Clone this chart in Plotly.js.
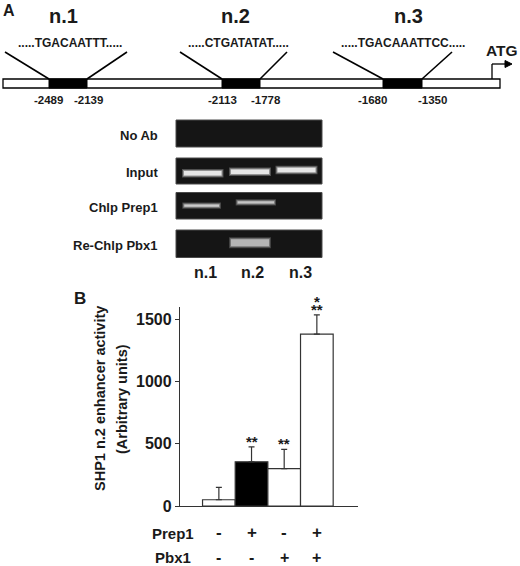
<!DOCTYPE html>
<html>
<head>
<meta charset="utf-8">
<script src="https://cdn.plot.ly/plotly-3.0.1.min.js"></script>
<style>
html,body{margin:0;padding:0;background:#fff;}
#chart{width:520px;height:566px;}
</style>
</head>
<body>
<div id="chart"></div>
<script>
// ---------------- DATA ----------------
// Panel B: SHP1 n.2 enhancer activity
const conditions = ['ctrl', 'Prep1', 'Pbx1', 'Prep1+Pbx1'];
const activity = [50, 355, 300, 1380];
const activityErr = [100, 120, 155, 155];
const prep1Signs = ['-', '+', '-', '+'];
const pbx1Signs = ['-', '-', '+', '+'];
const significance = ['', '**', '**', '**'];
const significance2 = ['', '', '', '*'];
const yTickVals = [0, 500, 1000, 1500];

// Panel A: schematic and ChIP gel
const sites = ['n.1', 'n.2', 'n.3'];
const siteSequences = ['.....TGACAATTT.....', '.....CTGATATAT.....', '.....TGACAAATTCC.....'];
const siteStart = ['-2489', '-2113', '-1680'];
const siteEnd = ['-2139', '-1778', '-1350'];
const gelRows = ['No Ab', 'Input', 'Chlp Prep1', 'Re-Chlp Pbx1'];
const bandNoAb = [0, 0, 0];
const bandInput = [1, 1, 1];
const bandPrep1 = [0.75, 0.7, 0];
const bandPbx1 = [0, 0.55, 0];

// ---------------- LAYOUT HELPERS ----------------
const W = 520, H = 566;
const X = p => p / W;
const Y = p => 1 - p / H;
const FONT = 'Liberation Sans, Arial, Helvetica, sans-serif';
const INK = '#1a1a1a';

const shapes = [];
const annotations = [];

function rect(x0, y0, x1, y1, fill, lc, lw) {
  shapes.push({type: 'rect', xref: 'paper', yref: 'paper', x0: X(x0), x1: X(x1), y0: Y(y1), y1: Y(y0),
    fillcolor: fill, line: {color: lc || fill, width: lw || 0}, layer: 'above'});
}
function line(x0, y0, x1, y1, c, w) {
  shapes.push({type: 'line', xref: 'paper', yref: 'paper', x0: X(x0), x1: X(x1), y0: Y(y0), y1: Y(y1),
    line: {color: c, width: w}, layer: 'above'});
}
function text(t, x, y, size, xanchor, opts) {
  annotations.push(Object.assign({xref: 'paper', yref: 'paper', x: X(x), y: Y(y), text: '<b>' + t + '</b>',
    showarrow: false, xanchor: xanchor || 'center', yanchor: 'middle',
    font: {family: FONT, size: size, color: INK}}, opts || {}));
}

// ---------------- PANEL A: schematic ----------------
text('A', 1, 10, 16, 'left');
const siteLabelX = [63, 235, 408];
const seqX = [70, 238, 403];
const boxX = [[49, 87], [222, 260], [383, 422]];
const diagTop = [[5, 127], [180, 287], [333, 452]];
const coordX = [[48, 88], [222, 266], [372, 432]];
// promoter bar
rect(3, 79, 500, 88, '#ffffff', '#000', 1.3);
sites.forEach((s, i) => {
  text(s, siteLabelX[i], 16, 20, 'center');
  text(siteSequences[i], seqX[i], 43, 12, 'center');
  rect(boxX[i][0], 79, boxX[i][1], 88, '#000', '#000', 1);
  line(diagTop[i][0], 52, boxX[i][0], 79, '#000', 1.6);
  line(boxX[i][1], 79, diagTop[i][1], 52, '#000', 1.6);
  text(siteStart[i], coordX[i][0], 99.5, 11.5, 'center');
  text(siteEnd[i], coordX[i][1], 99.5, 11.5, 'center');
});
// ATG arrow
line(492, 79, 492, 64, '#000', 1.3);
line(492, 64, 506, 64, '#000', 1.3);
shapes.push({type: 'path', xref: 'paper', yref: 'paper',
  path: `M ${X(505)} ${Y(60.5)} L ${X(512)} ${Y(64)} L ${X(505)} ${Y(67.5)} Z`,
  fillcolor: '#000', line: {color: '#000', width: 1}, layer: 'above'});
text('ATG', 520, 51, 15.5, 'right');

// ---------------- PANEL A: gel ----------------
const gelX0 = 176, gelX1 = 322;
const gelRowY = [[120, 147], [158, 184], [192.5, 219], [230, 257.5]];
const bandData = [bandNoAb, bandInput, bandPrep1, bandPbx1];
const bandX = [[183, 222.5], [230, 270], [276.5, 316.5]];
const bandXPrep = [[183.3, 220], [236.7, 275], [276.5, 316.5]];
const bandY = [[133, 133, 133], [173.3, 171.7, 170], [205.7, 202.3, 204], [242.7, 242.7, 242.7]];
const bandThick = [3, 4.5, 2.2, 7];
gelRows.forEach((r, i) => {
  rect(gelX0, gelRowY[i][0], gelX1, gelRowY[i][1], '#151515', '#4a4a4a', 1);
  text(r, 160, (gelRowY[i][0] + gelRowY[i][1]) / 2 + 2, 13, 'right');
  bandData[i].forEach((v, j) => {
    if (v <= 0) return;
    const xr = i === 2 ? bandXPrep[j] : bandX[j];
    const yc = bandY[i][j], t = bandThick[i];
    const g = Math.round(120 + 110 * v);
    rect(xr[0] - 1, yc - t / 2 - 2, xr[1] + 1, yc + t / 2 + 2, `rgba(${g},${g},${g},0.28)`);
    rect(xr[0], yc - t / 2 - 1, xr[1], yc + t / 2 + 1, `rgba(${g},${g},${g},0.45)`);
    rect(xr[0] + 1, yc - t / 2, xr[1] - 1, yc + t / 2, `rgb(${g},${g},${g})`);
  });
});
const laneX = [205, 252, 300];
sites.forEach((s, j) => text(s, laneX[j], 272, 16, 'center'));

// ---------------- PANEL B: bar chart ----------------
text('B', 72, 298, 17, 'left');
// y-axis title (two lines)
text('SHP1 n.2 enhancer activity', 100, 399, 14.5, 'center', {textangle: -90});
text('(Arbitrary units)', 122, 399, 14.5, 'center', {textangle: -90});

const idx = conditions.map((c, i) => i);
// significance stars (stacked with tight line spacing)
idx.forEach(i => {
  if (significance[i]) {
    let t = '<span style="font-size:15px"><b>' + significance[i] + '</b></span>';
    if (significance2[i]) t = '<span style="font-size:15px"><b>' + significance2[i] + '</b></span><br>' + t;
    annotations.push({xref: 'x', yref: 'y', x: i, y: activity[i] + activityErr[i], text: t,
      showarrow: false, xanchor: 'center', yanchor: 'bottom', yshift: -5,
      font: {family: FONT, size: significance2[i] ? 6 : 15, color: INK}});
  }
  annotations.push({xref: 'x', yref: 'paper', x: i, y: Y(532), text: '<b>' + prep1Signs[i] + '</b>',
    showarrow: false, xanchor: 'center', yanchor: 'middle', font: {family: FONT, size: 17, color: INK}});
  annotations.push({xref: 'x', yref: 'paper', x: i, y: Y(557), text: '<b>' + pbx1Signs[i] + '</b>',
    showarrow: false, xanchor: 'center', yanchor: 'middle', font: {family: FONT, size: 16, color: INK}});
});
text('Prep1', 173, 533, 15, 'center');
text('Pbx1', 173, 557, 15, 'center');

const trace = {
  type: 'bar',
  x: idx,
  y: activity,
  marker: {color: ['#ffffff', '#000000', '#ffffff', '#ffffff'], line: {color: '#333', width: 1.2}},
  error_y: {type: 'data', symmetric: false, array: activityErr, arrayminus: activityErr.map(() => 0),
    color: '#333', thickness: 1.2, width: 3},
  width: 1,
  hoverinfo: 'skip'
};

const layout = {
  width: W, height: H,
  margin: {l: 0, r: 0, t: 0, b: 0},
  paper_bgcolor: '#fff', plot_bgcolor: 'rgba(0,0,0,0)',
  showlegend: false,
  bargap: 0,
  xaxis: {domain: [X(180), X(358)], range: [-1.19, 4.26], showline: true, linecolor: '#333', linewidth: 1.2,
    showticklabels: false, ticks: '', showgrid: false, zeroline: false, fixedrange: true},
  yaxis: {domain: [Y(506), Y(306.7)], range: [0, 1600], showline: true, linecolor: '#333', linewidth: 1.2,
    tickvals: yTickVals, ticktext: yTickVals.map(v => '<b>' + v + '</b>'), ticks: 'outside', ticklen: 4, tickcolor: '#333',
    tickfont: {family: FONT, size: 16, color: INK}, showgrid: false, zeroline: false, fixedrange: true},
  shapes: shapes,
  annotations: annotations
};

Plotly.newPlot('chart', [trace], layout, {staticPlot: true, displayModeBar: false});
</script>
</body>
</html>
